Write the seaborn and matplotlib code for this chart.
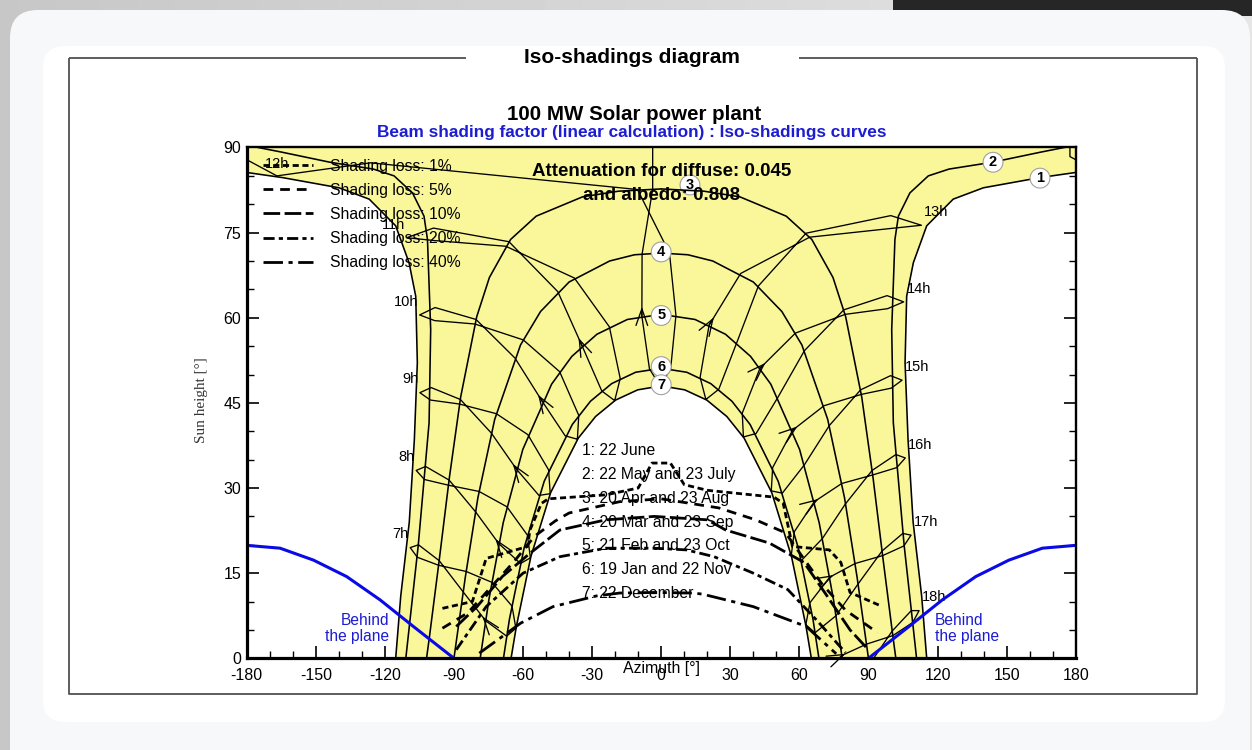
import numpy as np
import matplotlib
matplotlib.use("Agg")
import matplotlib.pyplot as plt
import seaborn as sns
from matplotlib.patches import FancyBboxPatch, Rectangle
from matplotlib.lines import Line2D

sns.set_theme(style="ticks")
plt.rcParams["font.family"] = ["Liberation Sans", "DejaVu Sans"]
plt.rcParams["text.color"] = "black"
plt.rcParams["xtick.color"] = "black"
plt.rcParams["ytick.color"] = "black"
plt.rcParams["axes.edgecolor"] = "black"
plt.rcParams["axes.unicode_minus"] = False

# ------------------------------------------------------------------ data
AZ_MIN, AZ_MAX, H_MIN, H_MAX = -180, 180, 0, 90

# Sun-path date curves, afternoon half (noon -> sunset); morning half is the mirror image
c1_az = [180.0, 164.5, 139.9, 126.8, 115.3, 109.5, 106.6, 105.9, 107.2, 109.4, 113.1, 115.3]
c1_h = [85.6, 84.7, 82.9, 80.9, 76.2, 69.7, 63.8, 52.1, 38.5, 24.0, 11.0, 0.0]
c2_az = [180.0, 165.0, 143.8, 125.0, 116.0, 108.0, 103.0, 101.5, 100.1, 100.8, 102.5, 105.5, 109.2, 110.9]
c2_h = [90.4, 89.2, 87.4, 86.2, 85.0, 82.0, 77.9, 73.8, 57.9, 41.5, 33.7, 19.9, 6.3, 0.0]
c3_az = [0.0, 18.6, 34.2, 54.3, 65.4, 74.6, 80.1, 87.1, 92.0, 96.3, 100.7, 101.9]
c3_h = [82.7, 82.3, 81.3, 77.9, 73.8, 67.1, 60.2, 46.0, 31.8, 17.6, 3.6, 0.0]
c4_az = [0.0, 11.6, 22.4, 40.0, 52.4, 61.1, 72.3, 79.6, 85.1, 90.0]
c4_h = [71.4, 71.1, 70.0, 66.3, 61.1, 55.2, 42.1, 28.3, 14.2, 0.0]
c5_az = [0.0, 14.7, 27.9, 38.8, 47.6, 60.1, 68.6, 74.8, 78.6]
c5_h = [60.6, 59.7, 57.1, 53.2, 48.3, 36.8, 23.9, 10.4, 0.0]
c6_az = [0.0, 11.1, 21.5, 30.7, 38.6, 50.8, 59.5, 65.9, 68.5]
c6_h = [51.1, 50.4, 48.4, 45.3, 41.2, 31.2, 19.5, 6.9, 0.0]
c7_az = [0.0, 10.2, 19.8, 28.5, 36.0, 48.0, 56.6, 62.9, 65.2]
c7_h = [48.0, 47.3, 45.5, 42.6, 38.8, 29.2, 17.9, 5.6, 0.0]

date_names = ["1: 22 June", "2: 22 May and 23 July", "3: 20 Apr and 23 Aug",
              "4: 20 Mar and 23 Sep", "5: 21 Feb and 23 Oct", "6: 19 Jan and 22 Nov",
              "7: 22 December"]
curve_tags = ["1", "2", "3", "4", "5", "6", "7"]
tag_az = [164.5, 144.1, 12.5, 0.0, 0.0, 0.0, 0.0]
tag_h = [84.6, 87.4, 83.4, 71.6, 60.4, 51.4, 48.2]

# Hour lines (legal time) through the year:
# Dec22, Jan19, Feb21, Mar20, Apr20, May22, Jun22, Jul23, Aug23, Sep23, Oct23, Nov22, Dec22
h07_az = [-63.1, -67.1, -76.2, -86.0, -96.4, -105.4, -109.0, -105.9, -96.7, -84.7, -73.6, -64.8, -63.1]
h07_h = [5.3, 3.9, 6.6, 11.7, 17.2, 20.0, 19.5, 17.8, 16.4, 15.3, 13.4, 9.2, 5.3]
h08_az = [-56.8, -61.1, -70.5, -80.6, -92.1, -102.3, -106.4, -102.8, -92.4, -79.1, -67.0, -58.1, -56.8]
h08_h = [17.7, 16.7, 20.2, 25.8, 31.4, 33.8, 33.1, 31.5, 30.5, 29.4, 26.7, 21.7, 17.7]
h09_az = [-48.2, -53.1, -62.8, -73.8, -87.2, -99.9, -104.8, -100.2, -87.6, -71.6, -57.9, -48.9, -48.2]
h09_h = [29.0, 28.7, 33.3, 39.7, 45.6, 47.7, 46.8, 45.5, 44.8, 43.1, 39.4, 33.2, 29.0]
h10_az = [-36.4, -41.7, -51.7, -63.5, -80.4, -98.2, -104.9, -98.4, -80.9, -59.9, -44.1, -35.8, -36.4]
h10_h = [38.6, 39.2, 45.3, 52.9, 59.7, 61.8, 60.5, 59.5, 58.9, 56.1, 50.5, 42.8, 38.6]
h11_az = [-20.2, -25.8, -34.3, -44.9, -66.1, -98.9, -110.5, -98.4, -67.5, -37.7, -22.5, -17.8, -20.2]
h11_h = [45.4, 47.1, 55.0, 64.6, 73.4, 75.8, 74.1, 73.6, 72.6, 67.0, 58.4, 49.3, 45.4]
h12_az = [-0.5, -5.1, -8.4, -8.3, -3.7, 177.5, -166.9, -126.2, -10.3, 3.6, 6.4, 4.1, -0.5]
h12_h = [48.0, 51.0, 60.3, 71.2, 82.7, 88.4, 85.0, 87.3, 82.6, 71.4, 60.4, 51.0, 48.0]
h13_az = [19.4, 16.9, 20.8, 34.5, 64.5, 98.9, 113.0, 99.7, 62.9, 42.2, 32.8, 25.0, 19.4]
h13_h = [45.6, 49.5, 58.7, 67.8, 74.2, 75.7, 76.3, 78.0, 74.9, 65.6, 55.6, 47.4, 45.6]
h14_az = [35.7, 35.2, 42.9, 58.3, 79.9, 98.3, 105.3, 98.1, 79.3, 62.2, 50.7, 41.2, 35.7]
h14_h = [39.0, 43.2, 51.1, 57.3, 60.6, 61.6, 62.8, 63.9, 61.4, 54.2, 46.0, 39.6, 39.0]
h15_az = [47.8, 48.4, 57.1, 70.7, 86.9, 99.9, 104.6, 99.6, 86.6, 73.0, 62.2, 52.6, 47.8]
h15_h = [29.5, 33.6, 40.2, 44.5, 46.5, 47.6, 49.0, 49.8, 47.3, 41.0, 34.1, 29.1, 29.5]
h16_az = [56.5, 57.8, 66.5, 78.4, 91.8, 102.3, 106.0, 101.9, 91.6, 80.0, 70.0, 60.8, 56.5]
h16_h = [18.2, 22.3, 27.6, 30.8, 32.3, 33.6, 35.3, 35.9, 33.1, 27.2, 21.1, 17.2, 18.2]
h17_az = [62.8, 64.6, 73.2, 84.2, 96.2, 105.4, 108.5, 104.9, 95.9, 85.5, 75.9, 66.8, 62.8]
h17_h = [5.9, 9.8, 14.3, 16.7, 18.1, 19.8, 21.7, 22.0, 18.9, 13.1, 7.5, 4.5, 5.9]
h18_az = [67.6, 69.7, 78.4, 89.2, 100.6, 109.2, 112.0, 108.6, 100.3, 90.4, 80.7, 71.4, 67.6]
h18_h = [-7.0, -3.3, 0.5, 2.5, 4.0, 6.3, 8.4, 8.4, 4.8, -1.1, -6.4, -8.8, -7.0]
hour_names = ["7h", "8h", "9h", "10h", "11h", "12h", "13h", "14h", "15h", "16h", "17h", "18h"]

# Iso-shading curves (shading loss levels)
iso01_az = [-95, -82, -76, -58, -57, -52, -49, -24, -10, -4, 4, 10, 20, 49, 53, 57, 73, 78, 82, 95]
iso01_h = [8.8, 10.0, 17.6, 19.7, 22.6, 27.3, 28.1, 28.8, 30.0, 34.4, 34.4, 30.6, 29.6, 28.4, 27.3, 19.7, 19.1, 16.9, 11.6, 9.3]
iso05_az = [-95, -84, -74, -64, -55, -46, -40, -18, 0, 25, 41, 54, 62, 70, 80, 94]
iso05_h = [5.3, 8.0, 12.5, 17.0, 21.5, 24.2, 25.6, 27.6, 28.1, 26.5, 24.4, 22.1, 17.5, 13.0, 8.5, 4.5]
iso10_az = [-89, -80, -69, -57, -44, -24, -3, 20, 28, 47, 62, 72, 82, 90]
iso10_h = [5.6, 9.1, 14.4, 18.5, 22.6, 24.4, 25.0, 24.4, 22.6, 20.3, 16.9, 11.0, 5.0, 1.5]
iso20_az = [-89, -76, -60, -44, -24, -3, 11, 23, 40, 55, 68, 80]
iso20_h = [1.5, 9.1, 15.0, 17.9, 19.4, 19.4, 19.1, 17.9, 15.0, 12.1, 6.5, 1.0]
iso40_az = [-79, -61, -47, -28, -18, -3, 14, 18, 40, 63, 76]
iso40_h = [0.9, 6.2, 9.1, 11.0, 11.5, 11.6, 11.5, 11.3, 9.1, 5.6, 0.8]
loss_labels = ["Shading loss: 1%", "Shading loss: 5%", "Shading loss: 10%",
               "Shading loss: 20%", "Shading loss: 40%"]

# Horizon of the collector plane (sun behind the plane), eastern half
plane_az = [-180.0, -165.5, -151.0, -136.6, -122.1, -107.6, -90.0]
plane_h = [19.9, 19.4, 17.3, 14.4, 10.3, 5.6, 0.0]

x_ticks = list(range(-180, 181, 30))
y_ticks = list(range(0, 91, 15))

# ------------------------------------------------------------------ styles
YELLOW = "#faf69a"
BLUE_LINE = "#0a0ae6"
BLUE_TEXT = "#1c1cd2"
iso_styles = [(0, (2.2, 1.3)), (0, (3.5, 2.5)), (0, (6.0, 1.6)),
              (0, (4.0, 1.5, 1.5, 1.5)), (0, (7.0, 2.0, 1.5, 2.0))]

# ------------------------------------------------------------------ page
fig = plt.figure(figsize=(12.52, 7.5), dpi=100)
fig.patch.set_facecolor("#dedede")

bg = fig.add_axes([0, 0, 1, 1], zorder=-10)
bg.set_xlim(0, 1252)
bg.set_ylim(750, 0)
bg.axis("off")
bg.imshow(np.tile(np.linspace(0.78, 0.9, 200), (2, 1)), cmap="gray", vmin=0, vmax=1,
          extent=[0, 1252, 750, 0], aspect="auto")
bg.add_patch(Rectangle((893, 0), 359, 16, color="#262626", lw=0))
bg.add_patch(FancyBboxPatch((10, 10), 1240, 770, boxstyle="round,pad=0,rounding_size=28",
                            fc="#f7f8fa", ec="none"))
bg.add_patch(FancyBboxPatch((43, 46), 1182, 676, boxstyle="round,pad=0,rounding_size=22",
                            fc="white", ec="none"))
frame_kw = dict(color="#505050", lw=1.3, solid_capstyle="butt")
bg.plot([68.5, 68.5, 1196.5, 1196.5], [57.5, 693.5, 693.5, 57.5], **frame_kw)
bg.plot([68.5, 466], [57.5, 57.5], **frame_kw)
bg.plot([799, 1196.5], [57.5, 57.5], **frame_kw)
bg.text(632, 57.5, "Iso-shadings diagram", ha="center", va="center",
        fontsize=15, fontweight="bold")
bg.text(634, 114, "100 MW Solar power plant", ha="center", va="center",
        fontsize=14.8, fontweight="bold")
bg.text(632, 133, "Beam shading factor (linear calculation) : Iso-shadings curves",
        ha="center", va="center", fontsize=12.4, fontweight="bold", color=BLUE_TEXT)

# ------------------------------------------------------------------ chart
ax = fig.add_axes([246.7 / 1252, 1 - 658.3 / 750, 829 / 1252, 510.8 / 750])
ax.set_facecolor("white")
ax.set_xlim(AZ_MIN, AZ_MAX)
ax.set_ylim(H_MIN, H_MAX)

# sun-reachable area: between the June curve (outer) and the December curve (inner)
c1a, c1e = np.asarray(c1_az), np.asarray(c1_h)
c7a, c7e = np.asarray(c7_az), np.asarray(c7_h)
poly_x = np.concatenate([-c1a[::-1], [AZ_MIN, AZ_MAX], c1a, c7a[::-1], -c7a[1:]])
poly_y = np.concatenate([c1e[::-1], [H_MAX, H_MAX], c1e, c7e[::-1], c7e[1:]])
ax.fill(poly_x, poly_y, color=YELLOW, lw=0, zorder=1)

# date curves
for az, el in [(c1_az, c1_h), (c2_az, c2_h), (c3_az, c3_h), (c4_az, c4_h),
               (c5_az, c5_h), (c6_az, c6_h), (c7_az, c7_h)]:
    a, e = np.asarray(az), np.asarray(el)
    for sign in (1, -1):
        sns.lineplot(x=sign * a, y=e, sort=False, estimator=None, color="black",
                     lw=1.15, ax=ax, zorder=3)

# hour lines (split where the path passes the zenith, wrap at +/-180)
hour_lines = [(h07_az, h07_h), (h08_az, h08_h), (h09_az, h09_h), (h10_az, h10_h),
              (h11_az, h11_h), (h12_az, h12_h), (h13_az, h13_h), (h14_az, h14_h),
              (h15_az, h15_h), (h16_az, h16_h), (h17_az, h17_h), (h18_az, h18_h)]


def hour_segments(az, el):
    segs = []
    xs, ys = [az[0]], [el[0]]
    for a0, a1, e1 in zip(az[:-1], az[1:], el[1:]):
        d = (a1 - a0 + 180) % 360 - 180
        if abs(d) > 150:
            xs.append(xs[-1])
            ys.append(H_MAX)
            segs.append((xs, ys))
            xs, ys = [a1, a1], [H_MAX, e1]
        else:
            xs.append(xs[-1] + d)
            ys.append(e1)
    segs.append((xs, ys))
    return segs


for az, el in hour_lines:
    for xs, ys in hour_segments(az, el):
        for shift in (-360, 0, 360):
            ax.plot(np.asarray(xs) + shift, ys, color="black", lw=0.95, zorder=3)
    # direction arrow between the February and March points
    x0, y0, x1, y1 = az[2], el[2], az[3], el[3]
    ax.annotate("", xy=(x0 + 0.15 * (x1 - x0), y0 + 0.15 * (y1 - y0)), xytext=(x0, y0),
                arrowprops=dict(arrowstyle="->,head_length=1.0,head_width=0.35",
                                color="black", lw=0.95, shrinkA=0, shrinkB=0),
                zorder=3, annotation_clip=True)

# hour labels next to the June end of each hour line
for name, (az, el) in zip(hour_names, hour_lines):
    a, e = az[6], el[6]
    if name == "12h":
        ax.annotate(name, (a, e), xytext=(0, 8.5), textcoords="offset points",
                    ha="center", va="center", fontsize=10.5, zorder=2)
    elif a < 0:
        ax.annotate(name, (a, e), xytext=(-1, 9.5), textcoords="offset points",
                    ha="right", va="center", fontsize=10.5, zorder=2)
    else:
        ax.annotate(name, (a, e), xytext=(2, 9.5), textcoords="offset points",
                    ha="left", va="center", fontsize=10.5, zorder=2)

# iso-shading curves
for (az, el), ls in zip([(iso01_az, iso01_h), (iso05_az, iso05_h), (iso10_az, iso10_h),
                         (iso20_az, iso20_h), (iso40_az, iso40_h)], iso_styles):
    sns.lineplot(x=np.asarray(az), y=np.asarray(el), sort=False, estimator=None,
                 color="black", lw=2.0, linestyle=ls, ax=ax, zorder=4)

# plane horizon
pa, pe = np.asarray(plane_az), np.asarray(plane_h)
for sign in (1, -1):
    sns.lineplot(x=sign * pa, y=pe, sort=False, estimator=None, color=BLUE_LINE,
                 lw=2.2, ax=ax, zorder=4)
ax.text(-118.3, 5.2, "Behind\nthe plane", ha="right", va="center", ma="right",
        fontsize=11.2, color=BLUE_TEXT, linespacing=1.05, zorder=2)
ax.text(118.9, 5.2, "Behind\nthe plane", ha="left", va="center", ma="left",
        fontsize=11.2, color=BLUE_TEXT, linespacing=1.05, zorder=2)

# curve numbers
for tag, a, e in zip(curve_tags, tag_az, tag_h):
    ax.text(a, e, tag, ha="center", va="center", fontsize=10.5, fontweight="bold",
            zorder=6 if tag != "3" else 2.6,
            bbox=dict(boxstyle="circle,pad=0.2", fc="white", ec="#a0a0a0", lw=0.8))

# annotations
ax.text(0.3, 85.8, "Attenuation for diffuse: 0.045", ha="center", va="center",
        fontsize=13.5, fontweight="bold", zorder=2.7)
ax.text(0.3, 81.6, "and albedo: 0.808", ha="center", va="center",
        fontsize=13.5, fontweight="bold", zorder=2.7)
for i, name in enumerate(date_names):
    ax.text(-34.4, 36.6 - 4.2 * i, name, ha="left", va="center", fontsize=11.3, zorder=2)

# legend of shading-loss levels
handles = [Line2D([], [], color="black", lw=2.0, linestyle=ls) for ls in iso_styles]
leg = ax.legend(handles, loss_labels, loc="upper left", bbox_to_anchor=(0.0197, 0.978),
                frameon=False, fontsize=11.3, handlelength=3.2, handletextpad=1.05,
                labelspacing=0.58, borderpad=0, borderaxespad=0)
leg.set_zorder(2)

# axes cosmetics
ax.set_xticks(x_ticks)
ax.set_yticks(y_ticks)
ax.set_xticks(range(-180, 181, 10), minor=True)
ax.set_yticks(range(0, 91, 5), minor=True)
ax.tick_params(which="both", direction="in", top=False, right=True, labelsize=11.5)
ax.tick_params(which="major", length=8.5, width=1.2)
ax.tick_params(which="minor", length=4.8, width=1.0)
ax.tick_params(axis="x", which="major", pad=7)
ax.tick_params(axis="y", which="major", pad=4)
for side in ("left", "bottom"):
    ax.spines[side].set_linewidth(2.3)
for side in ("right", "top"):
    ax.spines[side].set_linewidth(1.7)
for sp in ax.spines.values():
    sp.set_color("black")
    sp.set_zorder(7)
ax.set_xlabel("")
ax.set_ylabel("Sun height [°]", family=["Liberation Serif", "DejaVu Serif"],
              fontsize=11, color="#333333")
ax.yaxis.set_label_coords(-0.0467, 0.505)
ax.text(0.5, -0.019, "Azimuth [°]", transform=ax.transAxes, ha="center", va="center",
        fontsize=11.4)

fig.savefig("out.png", dpi=100, facecolor=fig.get_facecolor())
